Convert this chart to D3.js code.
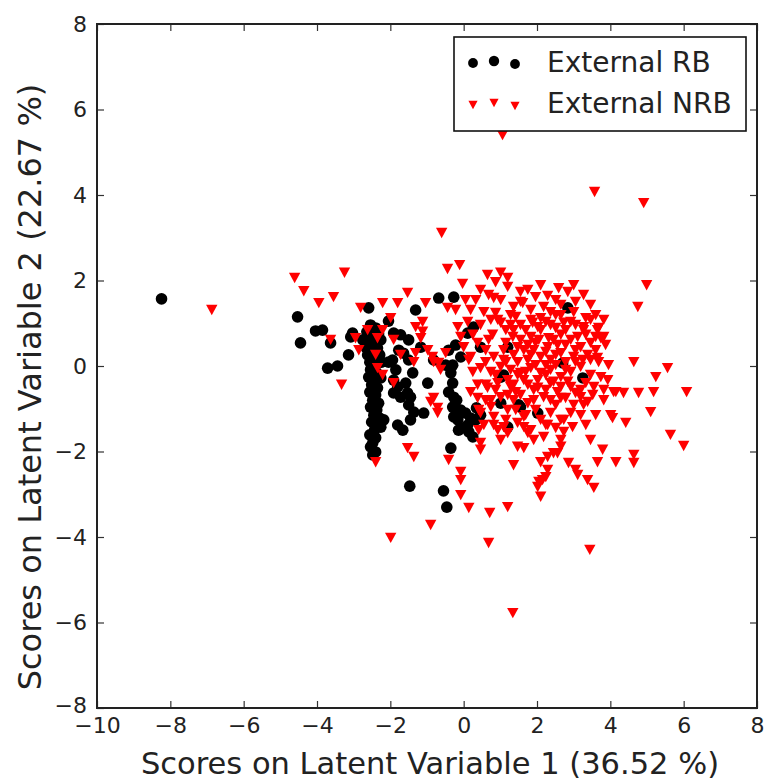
<!DOCTYPE html>
<html>
<head>
<meta charset="utf-8">
<script src="https://cdn.jsdelivr.net/npm/d3@7"></script>
<style>
  body { margin: 0; background: #fff; }
  text { font-family: "DejaVu Sans", sans-serif; fill: #222; }
</style>
</head>
<body>
<svg id="chart" width="771" height="781"></svg>
<script>
// scores: [LV1, LV2]
const externalRB = [
  [-8.24,1.57],[-4.53,1.15],[-4.45,0.54],[-4.04,0.82],[-3.85,0.84],[-3.63,0.54],[-3.71,-0.05],[-3.44,0.00],
  [-3.14,0.26],[-3.08,0.68],[-3.03,0.77],[-2.75,0.61],[-2.59,1.36],[-2.05,1.05],[-1.91,0.77],[-1.72,0.73],
  [-1.50,0.61],[-1.31,1.31],[-0.68,1.59],[-0.27,1.61],[-1.17,0.44],
  [-2.54,0.96],[-2.40,0.89],[-2.64,0.80],[-2.48,0.70],[-2.32,0.75],[-2.59,0.61],[-2.43,0.54],[-2.26,0.61],
  [-2.67,0.44],[-2.51,0.37],[-2.35,0.42],[-2.62,0.26],[-2.45,0.21],[-2.29,0.26],[-2.56,0.09],[-2.40,0.02],
  [-2.24,0.09],[-2.54,-0.09],[-2.37,-0.16],[-2.59,-0.26],[-2.43,-0.33],[-2.26,-0.28],[-2.51,-0.44],[-2.35,-0.51],
  [-2.56,-0.61],[-2.40,-0.68],[-2.48,-0.80],[-2.32,-0.87],[-2.54,-0.96],[-2.37,-1.03],[-2.45,-1.15],[-2.29,-1.22],
  [-2.51,-1.31],[-2.35,-1.38],[-2.43,-1.50],[-2.56,-1.61],[-2.40,-1.68],[-2.48,-1.80],[-2.54,-1.89],[-2.40,-2.01],
  [-2.48,-2.08],[-2.18,-1.26],[-2.26,-1.43],
  [-1.94,0.14],[-1.85,-0.09],[-1.91,-0.33],[-1.80,-0.49],[-1.72,-0.73],[-1.45,-0.73],[-1.91,-0.63],[-1.50,0.14],
  [-1.39,-0.16],[-1.58,-0.40],[-1.53,-0.63],[-1.36,-1.08],[-1.50,-0.91],[-1.80,-1.38],[-1.66,-1.50],[-1.45,-1.26],
  [-1.64,0.30],[-1.77,0.37],[-2.05,0.09],[-0.98,-0.40],[-1.47,-2.81],[-0.55,-2.92],[-0.46,-3.30],[-0.35,-1.92],
  [-0.35,-0.16],[-0.30,-0.40],[-0.27,-0.73],[-0.30,-0.96],[-0.27,-1.19],[-0.16,-1.26],[0.11,-1.38],[0.25,-1.66],
  [-0.08,0.21],[-0.82,0.14],[-0.41,0.37],[-0.22,0.49],[-0.30,0.02],[-0.41,-0.61],[-0.19,-0.80],[-0.08,-1.03],
  [0.05,-1.10],[0.19,-1.22],[0.33,-1.26],[-0.03,-1.45],[0.14,-1.54],[-0.14,-1.50],[0.46,-1.15],[0.35,-0.98],
  [2.84,1.36],[2.70,0.07],[3.25,-0.28],[2.02,-1.10],[1.20,0.44],[1.01,-0.26],[0.11,0.77],[1.50,-0.91],
  [1.20,-1.43],[1.01,-0.87],[0.46,0.44],[0.27,0.91],[1.09,-0.21],[1.55,-0.96],[-1.09,-1.10],[-0.49,0.02]
];

const externalNRB = [
  [-6.87,1.31],[-4.61,2.06],[-4.36,1.75],[-3.95,1.47],[-3.55,1.61],[-3.25,2.18],[-3.63,0.61],[-3.33,-0.44],
  [-2.81,1.36],[-2.21,1.47],[-1.80,1.47],[-1.53,1.71],[-1.04,1.47],[-1.99,1.12],[-0.44,1.36],[-0.22,1.31],
  [-2.95,0.65],[-2.62,0.84],[-2.21,0.84],[-2.86,0.37],[-2.35,0.65],[-2.40,0.26],[-1.91,0.61],[-1.72,0.26],
  [-1.31,0.91],[-1.12,0.80],[-1.17,0.65],[-1.31,0.30],[-1.36,0.09],[-0.98,0.37],[-0.85,0.21],[-0.68,0.07],
  [-0.49,0.30],[-0.63,-0.09],[-2.35,-0.05],[-2.21,-0.21],[-1.91,-0.40],[-0.82,-0.75],[-0.71,-0.98],[-1.53,-1.92],
  [-1.36,-2.13],[-2.40,-2.25],[-1.99,-4.02],[-0.90,-3.72],[-0.41,-2.20],[-0.08,-2.48],[-0.08,-2.67],[-0.08,-3.02],
  [0.14,-3.32],[0.71,-3.44],[1.20,-3.30],[0.68,-4.14],[1.36,-2.32],[3.44,-4.30],[1.34,-5.78],[2.10,-3.06],
  [2.05,-2.71],[2.24,-2.60],[-0.60,3.11],[-0.44,2.27],[-0.11,2.36],[-0.03,1.92],[1.06,5.40],[3.57,4.07],
  [4.91,3.81],[4.99,1.89],[4.75,1.38],
  [0.65,2.13],[1.01,2.18],[1.20,2.06],[0.68,1.66],[0.82,1.59],[1.20,1.85],[1.75,1.78],[2.10,1.89],
  [2.59,1.82],[2.84,1.73],[3.27,1.66],[0.55,1.26],[0.87,1.24],[1.36,1.38],[1.61,1.47],[1.42,1.15],
  [2.18,1.38],[2.37,1.26],[2.65,1.19],[3.00,1.26],[0.11,1.03],[0.46,0.96],[1.01,1.01],[0.79,0.73],
  [1.88,1.01],[2.10,0.84],[2.73,1.01],[3.27,0.91],[3.65,0.84],[3.74,0.65],[0.38,0.54],[0.60,0.37],
  [0.19,0.21],[1.34,0.68],[1.55,0.61],[1.83,0.68],[2.05,0.61],[2.29,0.44],[2.45,0.61],[2.65,0.73],
  [2.92,0.61],[3.19,0.44],[3.46,0.54],[3.82,0.68],[0.82,0.21],[1.09,0.14],[1.36,0.26],[1.64,0.37],
  [1.91,0.37],[2.10,0.21],[2.37,0.14],[2.65,0.30],[3.00,0.21],[3.38,0.26],[3.65,0.19],[0.46,-0.05],
  [0.74,-0.14],[1.01,-0.02],[1.28,-0.09],[1.55,-0.16],[1.83,-0.05],[2.10,-0.16],[2.37,-0.09],[2.65,-0.26],
  [2.92,-0.14],[3.19,-0.02],[3.46,-0.21],[3.74,-0.26],
  [0.38,-0.44],[0.65,-0.51],[0.93,-0.40],[1.28,-0.49],[1.75,-0.44],[2.02,-0.51],[2.37,-0.40],[2.56,-0.61],
  [2.92,-0.49],[3.19,-0.56],[3.55,-0.49],
  [0.38,-0.75],[0.74,-0.80],[1.01,-0.73],[1.36,-0.80],[1.75,-0.87],[2.18,-0.73],[2.65,-0.75],[3.00,-0.91],
  [3.38,-0.84],[3.82,-0.80],[4.09,-0.61],
  [0.46,-1.10],[0.82,-1.19],[1.20,-1.03],[1.64,-1.19],[2.37,-1.10],[2.73,-1.26],[3.19,-1.15],[4.01,-1.15],
  [0.55,-1.38],[1.09,-1.43],[1.47,-1.33],[1.83,-1.50],[2.29,-1.38],[2.73,-1.54],
  [-0.16,0.91],[-0.08,0.68],[0.00,0.44],[0.14,0.14],[0.25,-0.14],
  [3.27,0.84],[3.68,0.89],[3.87,0.49],[3.60,0.37],[3.68,0.09],
  [4.64,0.09],[5.56,-0.05],[5.24,-0.26],[4.15,-0.61],[4.36,-0.63],[4.77,-0.63],[5.18,-0.61],[6.08,-0.61],
  [5.10,-1.08],[4.06,-1.22],[4.42,-1.33],[5.64,-1.61],[6.00,-1.87],[3.79,-1.96],[3.65,-2.25],[4.15,-2.25],
  [4.64,-2.08],[4.64,-2.27],
  [2.56,-2.04],[2.65,-1.89],[1.64,-1.92],[0.46,-1.96],[2.10,-2.25],[2.29,-2.43],[2.15,-2.67],[2.02,-2.83],
  [3.05,-2.43],[3.38,-2.67],[3.55,-2.85],[2.86,-2.27],[3.11,-2.55],[1.75,-1.57],[1.91,-1.73],[2.18,-1.66],
  [0.93,-1.50],[1.20,-1.57],[2.97,-1.43],[2.45,-2.04],[2.29,-2.13],[0.46,-1.80],
  [-0.90,-0.84],[-0.71,-1.10],[-1.12,1.03],[-0.82,0.09],
  [1.15,0.84],[1.69,0.84],[2.24,1.03],[2.51,0.89],[1.47,0.44],[1.96,0.54],[2.24,0.33],[1.75,0.14],
  [2.51,0.02],[2.78,0.09],[1.47,0.09],[1.20,-0.33],[1.64,-0.33],[2.02,-0.33],[2.45,-0.37],[2.84,-0.37],
  [2.24,-0.56],[1.42,-0.61],[3.05,0.37],[3.33,0.73],[2.78,0.49],[3.05,0.96],[3.46,1.08],[1.55,0.96],
  [1.28,1.19],[1.83,1.31],[2.51,1.54],[3.05,1.50],[3.60,1.19],[0.60,-0.44],[0.19,-0.61],[1.15,-1.26],
  [2.10,-1.26],[2.51,-0.91],
  [0.33,1.54],[1.01,1.54],[1.96,1.61],[2.29,1.64],[3.46,1.43],[3.82,1.08],[0.25,0.73],[1.15,0.54],
  [1.75,0.49],[2.56,0.49],[3.60,0.68],[0.60,0.09],[1.96,0.02],[3.05,0.09],[3.46,0.14],[0.87,-0.56],
  [1.55,-0.68],[1.91,-0.80],[2.78,-0.75],[3.27,-0.91],[0.74,-0.96],[1.42,-1.03],[1.96,-1.03],[2.92,-1.10],
  [3.60,-1.15],[0.82,-1.38],[1.64,-1.43],[2.51,-1.45],[3.33,-1.38],[0.41,-1.50],[1.28,0.96],[0.74,1.08],
  [2.78,0.84],[2.51,1.19],[1.83,1.08],[1.15,0.09],[2.24,-0.21],[1.69,-0.14],[3.33,-0.40],[3.82,-0.56],
  [0.41,-1.03],[1.01,-1.73],[2.65,-1.73],[3.46,-1.73],[1.47,-1.89],[0.87,1.96],[1.55,1.73],[3.00,1.89],
  [0.46,1.78],[0.05,1.54],[0.19,1.31],[3.95,0.02],[3.93,-0.33],
  [0.93,1.08],[1.36,0.84],[2.02,0.91],[2.37,0.96],[2.92,1.03],[3.33,1.12],[1.09,0.37],[1.83,0.26],
  [2.51,0.26],[3.25,0.14],[0.87,-0.21],[1.36,-0.44],[1.91,-0.56],[2.65,-0.49],[3.05,-0.63],[1.55,1.50],
  [2.10,1.12],[2.65,1.43],[3.11,0.68],[2.32,0.65],[0.68,0.61],[1.47,-0.21],[2.24,0.02],[2.78,-0.09],
  [3.52,-0.68],[1.20,-0.68],[2.37,-0.80],[0.60,-0.80],[1.69,-1.15],[2.24,-1.38],[2.65,-1.26],[3.19,-0.73]
];

const xTicks = [-10, -8, -6, -4, -2, 0, 2, 4, 6, 8];
const yTicks = [-8, -6, -4, -2, 0, 2, 4, 6, 8];
const seriesNames = ["External RB", "External NRB"];
const xTitle = "Scores on Latent Variable 1 (36.52 %)";
const yTitle = "Scores on Latent Variable 2 (22.67 %)";

const svg = d3.select("#chart");
const plotL = 97, plotR = 757, plotT = 24, plotB = 708;

const x = d3.scaleLinear().domain([-10, 8]).range([plotL, plotR]);
const y = d3.scaleLinear().domain([-8, 8]).range([plotB, plotT]);
const fmt = d3.format("d");

// points
const tri = "M-5.7,-5.2L5.7,-5.2L0,5.2Z";

svg.append("g").selectAll("circle")
  .data(externalRB).enter()
  .append("circle")
  .attr("cx", d => x(d[0]))
  .attr("cy", d => y(d[1]))
  .attr("r", 5.8)
  .style("fill", "#000");

svg.append("g").selectAll("path")
  .data(externalNRB).enter()
  .append("path")
  .attr("d", tri)
  .attr("transform", d => "translate(" + x(d[0]) + "," + y(d[1]) + ")")
  .style("fill", "#ff0000");

// axes, ticks pointing in
function styleAxis(g) {
  g.selectAll(".domain").remove();
  g.selectAll(".tick line").attr("stroke", "#333").attr("stroke-width", 1.2);
  g.selectAll(".tick text").style("font-size", "22px").attr("fill", "#222");
}

svg.append("g")
  .attr("transform", "translate(0," + plotB + ")")
  .call(d3.axisBottom(x).tickValues(xTicks).tickFormat(fmt).tickSizeInner(-7).tickSizeOuter(0).tickPadding(9))
  .call(styleAxis);

svg.append("g")
  .attr("transform", "translate(0," + plotT + ")")
  .call(d3.axisTop(x).tickValues(xTicks).tickFormat("").tickSizeInner(-7).tickSizeOuter(0))
  .call(styleAxis);

const yAxisG = svg.append("g")
  .attr("transform", "translate(" + plotL + ",0)")
  .call(d3.axisLeft(y).tickValues(yTicks).tickFormat(fmt).tickSizeInner(-7).tickSizeOuter(0).tickPadding(10))
  .call(styleAxis);

svg.append("g")
  .attr("transform", "translate(" + plotR + ",0)")
  .call(d3.axisRight(y).tickValues(yTicks).tickFormat("").tickSizeInner(-7).tickSizeOuter(0))
  .call(styleAxis);

// the -8 label sits a touch higher so it clears the -10 below it
yAxisG.selectAll(".tick text").filter(d => d === -8).attr("dy", "0.2em");

// frame
svg.append("rect")
  .attr("x", plotL).attr("y", plotT)
  .attr("width", plotR - plotL).attr("height", plotB - plotT)
  .style("fill", "none").style("stroke", "#222").style("stroke-width", 2);

// axis titles
svg.append("text")
  .attr("x", 430).attr("y", 774)
  .attr("text-anchor", "middle")
  .style("font-size", "30.5px")
  .text(xTitle);

svg.append("text")
  .attr("transform", "translate(41,387) rotate(-90)")
  .attr("text-anchor", "middle")
  .style("font-size", "32px")
  .text(yTitle);

// legend
const lg = svg.append("g");
lg.append("rect")
  .attr("x", 454).attr("y", 37).attr("width", 292).attr("height", 94)
  .style("fill", "#fff").style("stroke", "#111").style("stroke-width", 1.6);

const rbMarks = [[473, 63, 4.9], [494, 61, 5.2], [515, 64, 4.9]];
const nrbMarks = [[473, 105], [494, 103], [515, 106]];
lg.selectAll("circle").data(rbMarks).enter().append("circle")
  .attr("cx", d => d[0]).attr("cy", d => d[1]).attr("r", d => d[2])
  .style("fill", "#000");
lg.selectAll("path").data(nrbMarks).enter().append("path")
  .attr("d", "M-4.6,-4.2L4.6,-4.2L0,4.2Z")
  .attr("transform", d => "translate(" + d[0] + "," + d[1] + ")")
  .style("fill", "#ff0000");

lg.selectAll("text").data(seriesNames).enter().append("text")
  .attr("x", 547).attr("y", (d, i) => 72 + i * 41)
  .style("font-size", "28px")
  .text(d => d);
</script>
</body>
</html>
